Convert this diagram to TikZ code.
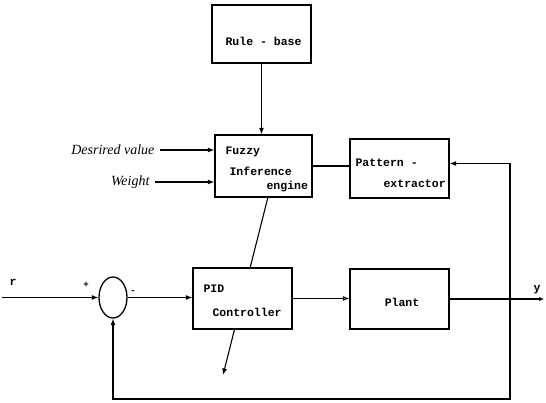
\documentclass[tikz,border=0pt]{standalone}
\usepackage{fontspec}
\setmainfont{Liberation Serif}
\setmonofont{Liberation Mono}
\usetikzlibrary{arrows.meta,shapes.geometric}

\begin{document}
\begin{tikzpicture}[x=1pt, y=-1pt, line width=1.1pt,
  >={Latex[length=6.5pt,width=5pt]},
  block/.style={draw, line width=1.3pt, fill=white, minimum width=99pt, minimum height=60pt, inner sep=0pt},
  txt/.style={font=\fontsize{11.5}{13}\selectfont\ttfamily\bfseries, inner sep=0pt, anchor=west},
  lab/.style={font=\fontsize{14}{16}\selectfont\itshape, inner sep=0pt, anchor=east}]
  \useasboundingbox (0,0) rectangle (546,403);

  % Tuning arrow through the controller
  \coordinate (adj1) at (268,197);
  \coordinate (adj2) at (223,375);
  \draw[->] (adj1) -- (adj2);

  % Blocks
  \node[block, minimum height=58pt] (rule) at (261.5,34) {};
  \node[block, minimum width=97pt, minimum height=62pt] (fuzzy) at (263.5,166) {};
  \node[block, minimum height=59pt] (pattern) at (399.5,168.5) {};
  \node[block, minimum height=61pt] (pid) at (242.5,298.5) {};
  \node[block] (plant) at (399.5,299) {};
  \node[draw, ellipse, line width=1.3pt, minimum width=28pt, minimum height=41pt, inner sep=0pt] (sum) at (113,297.5) {};

  % Block texts
  \node[txt] (ruletxt) at (225,41) {Rule - base};
  \node[txt] (fuzzytxt) at (225,152) {Fuzzy};
  \node[txt] (inftxt) at (229,171) {Inference};
  \node[txt] (engtxt) at (266,187) {engine};
  \node[txt] (pattxt) at (355,163) {Pattern -};
  \node[txt] (extxt) at (383,184) {extractor};
  \node[txt] (pidtxt) at (203,289) {PID};
  \node[txt] (ctrltxt) at (212,312) {Controller};
  \node[txt, anchor=center] (planttxt) at (402,302) {Plant};

  % Inputs of the inference engine
  \node[lab] (des) at (155,150) {Desrired value};
  \node[lab] (wgt) at (150,182) {Weight};
  \draw[->] ([xshift=5pt]des.east) -- (des -| fuzzy.west);
  \draw[->] ([xshift=5pt]wgt.east) -- (wgt -| fuzzy.west);

  % Signal labels
  \node[txt, anchor=center] (rlab) at (13,282) {r};
  \node[txt, anchor=center, font=\fontsize{9}{10}\selectfont\ttfamily\bfseries] (plus) at (86,285) {+};
  \node[txt, anchor=center, font=\fontsize{9}{10}\selectfont\ttfamily\bfseries] (minus) at (133,292) {-};
  \node[txt, anchor=center] (ylab) at (537,290) {y};

  % Connections
  \coordinate (rin) at (2,297.5);
  \coordinate (yout) at (544,299);
  \coordinate (br) at (510,299);
  \coordinate (fbl) at (510,399);
  \draw[->] (rule.south) -- (rule.south |- fuzzy.north);
  \draw (fuzzy.east) -- (fuzzy.east -| pattern.west);
  \draw[->] (rin) -- (sum.west);
  \draw[->] (sum.east) -- (sum.east -| pid.west);
  \draw[-{Latex[open,length=6.5pt,width=5pt]}] (pid.east) -- (pid.east -| plant.west);
  \draw[-{Latex[open,length=5pt,width=4.5pt]}] (plant.east) -- (yout);
  \draw[->] (br) |- ([yshift=5pt]pattern.east);
  \draw[->] (br) -- (fbl) -| (sum.south);
\end{tikzpicture}
\end{document}
